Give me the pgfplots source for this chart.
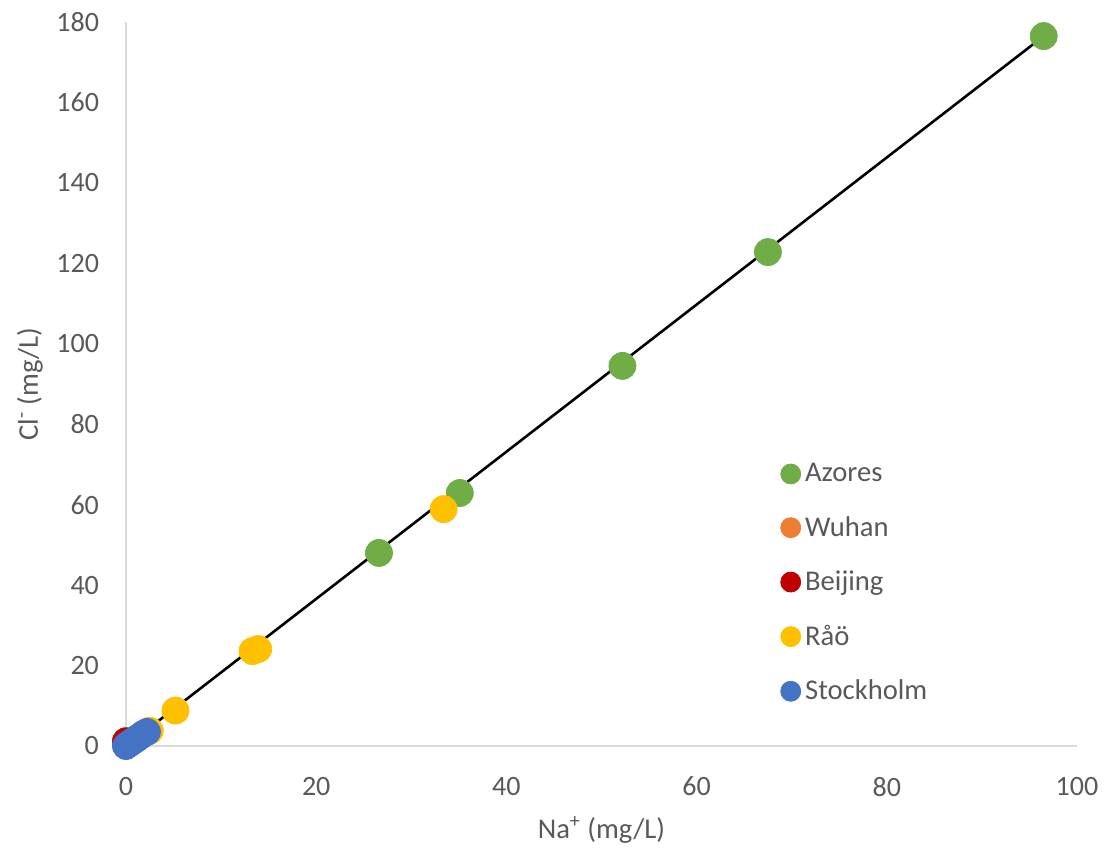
\documentclass[border=0pt]{standalone}
\usepackage{pgfplots}
\pgfplotsset{compat=1.18}
\usepackage{fontspec}
\setmainfont{Carlito}
\definecolor{cAz}{HTML}{70AD47}
\definecolor{cWu}{HTML}{ED7D31}
\definecolor{cBe}{HTML}{C00000}
\definecolor{cRa}{HTML}{FFC000}
\definecolor{cSt}{HTML}{4472C4}
\definecolor{txt}{HTML}{595959}
\definecolor{axl}{HTML}{D9D9D9}
\begin{document}
\begin{tikzpicture}
\useasboundingbox (0,0) rectangle (552pt,426.5pt);
\begin{axis}[
  at={(63pt,53.5pt)}, anchor=south west,
  scale only axis, width=475.5pt, height=362pt,
  xmin=0, xmax=100, ymin=0, ymax=180,
  xtick={0,20,...,100}, ytick={0,20,...,180},
  axis x line*=bottom, axis y line*=left,
  axis line style={draw=axl, line width=1pt, -},
  major tick length=0pt,
  clip=false,
  /pgf/number format/assume math mode=true,
  tick label style={font=\fontsize{14}{16}\selectfont, text=txt},
  yticklabel style={xshift=-10pt},
  xticklabel style={yshift=-12pt},
  label style={font=\fontsize{14.3}{16}\selectfont, text=txt},
  xlabel={Na\textsuperscript{+} (mg/L)},
  ylabel={Cl\textsuperscript{-} (mg/L)},
  xlabel style={at={([yshift=-42pt]axis description cs:0.5,0)}, anchor=center},
  ylabel style={at={([xshift=-48pt]axis description cs:0,0.5)}, anchor=center},
  legend style={draw=none, fill=none, at={([xshift=-6.5pt,yshift=10pt]axis cs:69.5,67.4)}, anchor=north west,
     font=\fontsize{14.3}{16}\selectfont, text=txt, row sep=11.8pt,
     /tikz/every even column/.append style={column sep=0pt}},
  legend cell align=left,
  legend image code/.code={\fill[#1] (0pt,0pt) circle (5pt);},
]
\addplot[only marks, mark=*, mark size=6.75pt, color=cAz, fill=cAz] coordinates {
 (26.6,48.0) (35.1,62.9) (52.2,94.5) (67.5,122.8) (96.5,176.5)};
\addlegendentry{Azores}
\addplot[only marks, mark=*, mark size=6.75pt, color=cWu, fill=cWu] coordinates {
 (0.3,0.6) (0.5,1.0)};
\addlegendentry{Wuhan}
\addplot[only marks, mark=*, mark size=6.75pt, color=cBe, fill=cBe] coordinates {
 (0.0,1.2) (0.3,1.0)};
\addlegendentry{Beijing}
\addplot[only marks, mark=*, mark size=6.75pt, color=cRa, fill=cRa] coordinates {
 (2.5,3.8) (5.2,8.8) (13.3,23.6) (13.9,24.1) (33.4,58.9)};
\addlegendentry{Råö}
\addplot[only marks, mark=*, mark size=6.75pt, color=cSt, fill=cSt] coordinates {
 (0,0) (0.3,0.5) (0.6,1.0) (1.0,1.6) (1.4,2.3) (1.8,3.0) (2.2,3.5)};
\addlegendentry{Stockholm}
\addplot[black, line width=1.3pt, forget plot] coordinates {(0,0) (96.5,176.5)};
\end{axis}
\end{tikzpicture}
\end{document}
